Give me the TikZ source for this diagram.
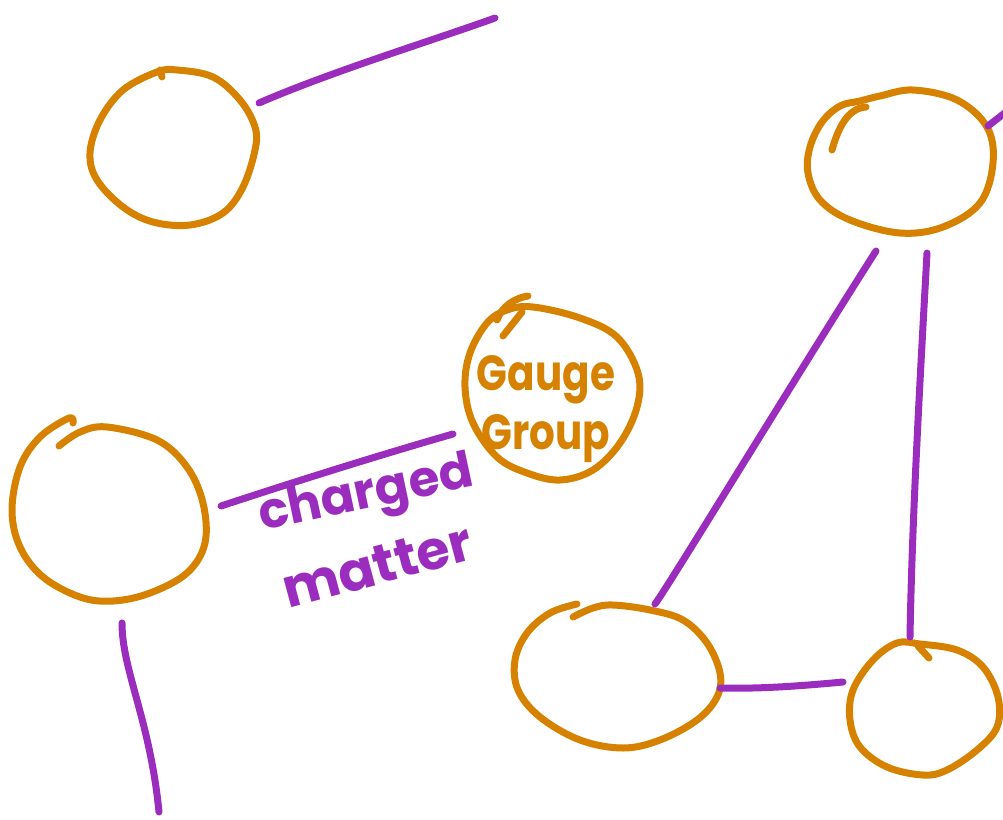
\documentclass[tikz,border=0pt]{standalone}
\usepackage{fontspec}
\setmainfont{Poppins}
\definecolor{ink}{RGB}{214,129,0}
\definecolor{pen}{RGB}{155,45,190}
\tikzset{
  ring/.style={draw=ink, line width=7pt, line cap=round, line join=round},
  link/.style={draw=pen, line width=7pt, line cap=round, line join=round},
  word/.style={inner sep=0pt, font=\bfseries}
}
\begin{document}
\begin{tikzpicture}[x=1pt,y=-1pt]
\useasboundingbox (0,0) rectangle (1003,819);
\clip (0,0) rectangle (1003,819);

% ---- rings ----
% upper left
\draw[ring] plot[smooth cycle, tension=0.6] coordinates {
  (177,70) (213,77) (240,100) (255,127) (255,150) (243,187) (223,213)
  (190,225) (153,222) (123,207) (97,180) (90,153) (100,120) (123,90) (157,72)};
\draw[ring] (160,70) -- (162,77);
% upper right
\draw[ring] plot[smooth cycle, tension=0.6] coordinates {
  (860,101) (840,106) (822,122) (810,147) (808,173) (820,200) (850,220)
  (900,233) (943,227) (980,203) (993,163) (987,127) (957,100) (913,90) (880,96)};
\draw[ring] (832,150) .. controls (838,128) and (848,108) .. (866,107);
% gauge group
\draw[ring] plot[smooth cycle, tension=0.6] coordinates {
  (533,307) (580,318) (617,337) (638,373) (637,407) (620,443) (593,470)
  (560,480) (527,473) (497,457) (473,423) (465,387) (470,353) (487,323) (507,310)};
\draw[ring] (528,296) .. controls (515,298) and (502,306) .. (497,320);
\draw[ring] (522,312) -- (503,336);
% middle left
\draw[ring] plot[smooth, tension=0.6] coordinates {
  (73,423) (69,418) (40,437) (20,467) (12,510) (20,547) (43,577) (80,597)
  (113,601) (150,593) (187,573) (205,543) (203,503) (187,467) (157,440)
  (107,427) (80,432) (59,446)};
% lower middle
\draw[ring] plot[smooth, tension=0.6] coordinates {
  (577,604) (550,613) (527,633) (515,660) (518,690) (540,717) (580,740)
  (623,748) (660,740) (697,720) (717,697) (720,673) (707,643) (683,620)
  (650,610) (613,605) (593,608) (573,617)};
% lower right
\draw[ring] plot[smooth cycle, tension=0.6] coordinates {
  (897,643) (873,660) (853,690) (850,720) (860,747) (887,767) (923,775)
  (947,770) (977,750) (997,727) (998,697) (983,667) (957,650) (920,644)};
\draw[ring] (918,646) -- (929,658);

% ---- connector ends ----
\coordinate (ul-out)  at (259,103);
\coordinate (top-end) at (495,18);
\coordinate (ur-out)  at (988,126);
\coordinate (ur-edge) at (1006,112);
\coordinate (ur-sw)   at (876,251);
\coordinate (ur-s)    at (927,253);
\coordinate (lm-top)  at (655,604);
\coordinate (lm-e)    at (720,688);
\coordinate (lr-w)    at (843,682);
\coordinate (lr-n)    at (910,637);
\coordinate (ml-e)    at (221,506);
\coordinate (gg-sw)   at (453,434);
\coordinate (ml-s)    at (122,623);
\coordinate (bot-end) at (159,812);

% ---- connectors ----
\draw[link] (ul-out) .. controls (330,72) and (440,38) .. (top-end);
\draw[link] (ur-out) -- (ur-edge);
\draw[link] (lm-top) .. controls (666,590) and (800,370) .. (ur-sw);
\draw[link] (ur-s) .. controls (920,380) and (912,520) .. (lr-n);
\draw[link] (lm-e) .. controls (760,689) and (800,686) .. (lr-w);
\draw[link] (ml-e) .. controls (300,480) and (380,455) .. (gg-sw);
\draw[link] (ml-s) .. controls (122,670) and (150,720) .. (bot-end);

% ---- labels ----
\node[word, text=ink, font=\bfseries\fontsize{44}{44}\selectfont, anchor=base,
      xscale=0.92, yscale=1.12, transform shape] (gauge) at (546,390) {Gauge};
\node[word, text=ink, font=\bfseries\fontsize{44}{44}\selectfont, anchor=base,
      xscale=0.92, yscale=1.12, transform shape] (group) at (546,449) {Group};
\node[word, text=pen, font=\bfseries\fontsize{50}{50}\selectfont, anchor=base west, rotate=12] (charged) at (262,531) {charged};
\node[word, text=pen, font=\bfseries\fontsize{54}{54}\selectfont, anchor=base west, rotate=15] (matter) at (288,609) {matter};
\end{tikzpicture}
\end{document}
